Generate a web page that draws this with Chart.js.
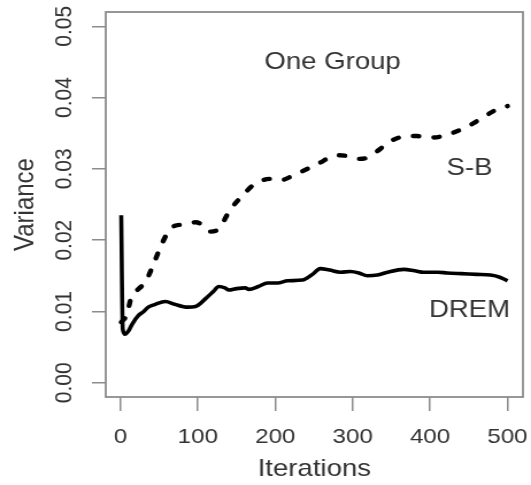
<!DOCTYPE html>
<html>
<head>
<meta charset="utf-8">
<script src="https://cdn.jsdelivr.net/npm/chart.js@4"></script>
<style>
  html, body { margin: 0; padding: 0; background: #fff; }
  /* the original figure is stretched sideways, so draw narrow and let css widen it */
  #myChart { width: 531px; height: 485px; }
</style>
</head>
<body>
<canvas id="myChart" width="462" height="485" style="width:531px;height:485px"></canvas>
<script>
// DREM (solid)
const dremIter = [1, 3, 6, 10, 15, 23, 30, 36, 45, 58, 70, 87, 97, 110, 120, 127, 135, 140, 150, 161, 166, 178, 190, 203, 216, 235, 248, 258, 270, 284, 297, 308, 319, 332, 345, 366, 380, 392, 410, 422, 440, 460, 478, 490, 500];
const dremVar = [0.0235, 0.0075, 0.0068, 0.0072, 0.0082, 0.0094, 0.0100, 0.0106, 0.0110, 0.0114, 0.0110, 0.0106, 0.0107, 0.0118, 0.0128, 0.0135, 0.0133, 0.0130, 0.0132, 0.0133, 0.0131, 0.0135, 0.0140, 0.0140, 0.0143, 0.0144, 0.0152, 0.0160, 0.0158, 0.0155, 0.0156, 0.0154, 0.0150, 0.0151, 0.0155, 0.0159, 0.0157, 0.0155, 0.0155, 0.0154, 0.0153, 0.0152, 0.0151, 0.0148, 0.0143];

// S-B (dashed)
const sbIter = [1, 8, 14, 20, 33, 44, 54, 62, 70, 85, 97, 105, 115, 126, 142, 159, 170, 181, 195, 207, 218, 230, 255, 280, 293, 306, 320, 332, 345, 355, 370, 383, 395, 404, 420, 433, 446, 459, 470, 482, 500];
const sbVar = [0.0085, 0.0095, 0.0120, 0.0128, 0.0143, 0.0170, 0.0196, 0.0212, 0.0220, 0.0222, 0.0225, 0.0222, 0.0212, 0.0215, 0.0243, 0.0264, 0.0276, 0.0283, 0.0286, 0.0284, 0.0288, 0.0294, 0.0307, 0.0319, 0.0318, 0.0314, 0.0316, 0.0325, 0.0336, 0.0342, 0.0346, 0.0346, 0.0344, 0.0344, 0.0347, 0.0352, 0.0358, 0.0366, 0.0373, 0.0381, 0.0388];

// text labels inside the plot, placed in data units
const notes = [
    { text: 'One Group', x: 274, y: 0.0450 },
    { text: 'S-B', x: 451, y: 0.0301 },
    { text: 'DREM', x: 451, y: 0.0101 }
];

const FONT = '"Liberation Sans", Arial, sans-serif';
const TEXT = '#333';
const AXIS = '#8c8c8c';

function toPoints(xs, ys) {
    return xs.map((x, i) => ({ x: x, y: ys[i] }));
}

// grey frame round the plot, like R's box()
const plotBox = {
    id: 'plotBox',
    beforeDatasetsDraw(chart) {
        const { ctx, chartArea: { left, top, width, height } } = chart;
        ctx.save();
        ctx.strokeStyle = AXIS;
        ctx.lineWidth = 1.8;
        ctx.strokeRect(left, top, width, height);
        ctx.restore();
    }
};

const noteText = {
    id: 'noteText',
    afterDatasetsDraw(chart) {
        const { ctx, scales: { x, y } } = chart;
        ctx.save();
        ctx.font = `24px ${FONT}`;
        ctx.fillStyle = TEXT;
        ctx.textAlign = 'center';
        ctx.textBaseline = 'middle';
        notes.forEach(n => {
            ctx.fillText(n.text, x.getPixelForValue(n.x), y.getPixelForValue(n.y));
        });
        ctx.restore();
    }
};

const data = {
    datasets: [{
        label: 'DREM',
        data: toPoints(dremIter, dremVar),
        borderColor: '#000',
        borderWidth: 3.6,
        pointRadius: 0,
        tension: 0.3,
        cubicInterpolationMode: 'monotone',
        borderJoinStyle: 'round'
    }, {
        label: 'S-B',
        data: toPoints(sbIter, sbVar),
        borderColor: '#000',
        borderWidth: 4.4,
        borderDash: [5, 13],
        borderCapStyle: 'round',
        pointRadius: 0,
        tension: 0.3,
        cubicInterpolationMode: 'monotone'
    }]
};

const config = {
    type: 'line',
    data: data,
    options: {
        responsive: false,
        animation: false,
        layout: { padding: { top: 12, right: 7, left: 0, bottom: 0 } },
        plugins: {
            legend: { display: false },
            tooltip: { enabled: false }
        },
        scales: {
            x: {
                type: 'linear',
                min: -19,
                max: 520,
                afterFit(scale) {
                    scale.height = 88;
                    // labels may hang past the frame, as in R
                    scale.paddingLeft = 0;
                    scale.paddingRight = 0;
                },
                border: { display: false },
                grid: {
                    drawOnChartArea: false,
                    drawTicks: true,
                    tickLength: 14,
                    color: AXIS,
                    lineWidth: 1.5
                },
                ticks: {
                    stepSize: 100,
                    includeBounds: false,
                    maxRotation: 0,
                    padding: 14,
                    color: TEXT,
                    font: { family: FONT, size: 21 },
                    callback: v => String(v)
                },
                title: {
                    display: true,
                    text: 'Iterations',
                    color: TEXT,
                    font: { family: FONT, size: 24 },
                    padding: { top: 0, bottom: 1 }
                }
            },
            y: {
                min: -0.002,
                max: 0.052,
                afterFit(scale) {
                    scale.width = 92;
                    scale.paddingTop = 0;
                    scale.paddingBottom = 0;
                },
                border: { display: false },
                grid: {
                    drawOnChartArea: false,
                    drawTicks: true,
                    tickLength: 12,
                    color: AXIS,
                    lineWidth: 1.5
                },
                ticks: {
                    stepSize: 0.01,
                    includeBounds: false,
                    minRotation: 90,
                    maxRotation: 90,
                    crossAlign: 'center',
                    padding: 3,
                    color: TEXT,
                    font: { family: FONT, size: 21 },
                    callback: v => v.toFixed(2)
                },
                title: {
                    display: true,
                    text: 'Variance',
                    color: TEXT,
                    font: { family: FONT, size: 24 },
                    padding: { top: 8, bottom: 0 }
                }
            }
        }
    },
    plugins: [plotBox, noteText]
};

const myChart = new Chart(document.getElementById('myChart'), config);
</script>
</body>
</html>
